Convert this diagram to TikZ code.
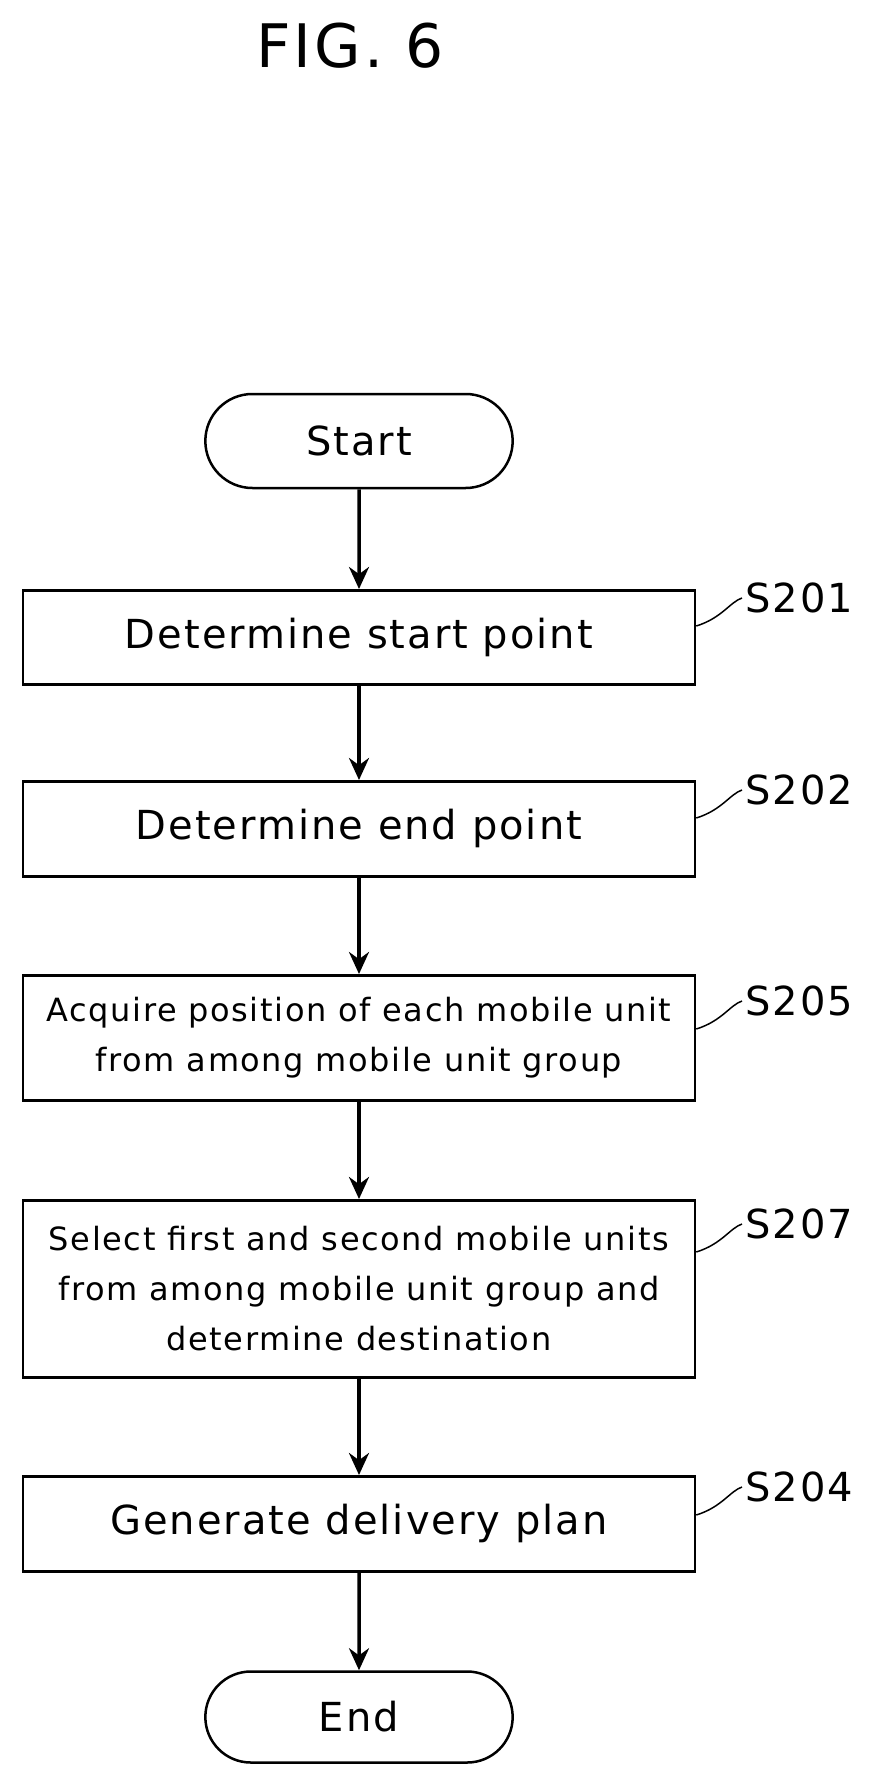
\documentclass[tikz,border=0pt]{standalone}
\usepackage{fontspec}
\setmainfont{DejaVu Sans}[LetterSpace=5]
\usetikzlibrary{arrows.meta,shapes.misc}
\begin{document}
\begin{tikzpicture}[x=1pt,y=-1pt,
  box/.style={draw,line width=2.5pt,minimum width=672pt,anchor=north,align=center,font=\fontsize{40}{52}\selectfont},
  box2/.style={box,font=\fontsize{32}{50}\selectfont},
  term/.style={draw,line width=2.5pt,rounded rectangle,minimum width=314pt,minimum height=94pt,font=\fontsize{40}{48}\selectfont},
  arr/.style={line width=3.5pt,-{Stealth[length=22pt,width=20pt]}},
  lbl/.style={font=\fontsize{40}{48}\selectfont,anchor=west},
  lk/.style={line width=1.5pt}]
\useasboundingbox (0,0) rectangle (889,1776);
\node[font=\fontsize{60}{70}\selectfont] (title) at (350,46) {FIG. 6};
\node[term] (start) at (359,441) {Start};
\node[box,minimum height=94pt] (s201) at (359,589) {Determine start point};
\node[box,minimum height=95pt] (s202) at (359,780) {Determine end point};
\node[box2,minimum height=125pt] (s205) at (359,974) {Acquire position of each mobile unit\\from among mobile unit group};
\node[box2,minimum height=177pt] (s207) at (359,1199) {Select first and second mobile units\\from among mobile unit group and\\determine destination};
\node[box,minimum height=95pt] (s204) at (359,1475) {Generate delivery plan};
\node[term,minimum height=91pt] (end) at (359,1717) {End};
\draw[arr] (start) -- (s201);
\draw[arr] (s201) -- (s202);
\draw[arr] (s202) -- (s205);
\draw[arr] (s205) -- (s207);
\draw[arr] (s207) -- (s204);
\draw[arr] (s204) -- (end);
\foreach \n/\t/\y in {s201/S201/598,s202/S202/790,s205/S205/1001,s207/S207/1224,s204/S204/1487}{
  \node[lbl] (l\n) at (742,\y) {\t};
  \draw[lk] (\n.east |- 0,\y+28) .. controls (722,\y+20) and (730,\y+4) .. (l\n.west);
}
\end{tikzpicture}
\end{document}
